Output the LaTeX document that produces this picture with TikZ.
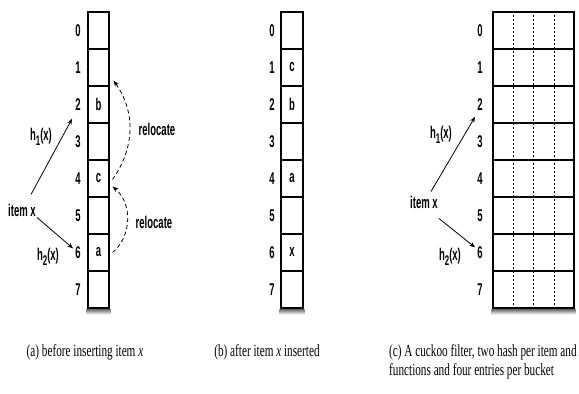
\documentclass[tikz,border=0pt]{standalone}
\usepackage{fontspec}
\setmainfont{Liberation Serif}
\newfontfamily\labfont[FakeStretch=0.56]{Liberation Sans}
\newfontfamily\capfont[FakeStretch=0.66]{Liberation Serif}
\usetikzlibrary{arrows.meta,calc,positioning}
\newcommand{\hsub}[1]{\raisebox{-0.3em}{\fontsize{14pt}{14pt}\selectfont #1}}
\tikzset{
  lab/.style={font=\labfont\bfseries\fontsize{17pt}{17pt}\selectfont, inner sep=1pt},
  cell/.style={draw=black, line width=1.1pt, minimum height=37pt,
               inner sep=0pt, lab},
  idx/.style={lab},
  hash/.style={-{Stealth[length=6pt,width=4.5pt]}, line width=0.8pt},
  reloc/.style={hash, dash pattern=on 4pt off 3pt},
  slot/.style={line width=0.5pt, dash pattern=on 2pt off 2pt},
  caption/.style={font=\capfont\fontsize{17pt}{19pt}\selectfont, inner sep=0pt},
  tabshadow/.style={top color=black!60, bottom color=white},
}

\begin{document}
\begin{tikzpicture}[x=1pt,y=1pt]
  \path[use as bounding box] (0,0) rectangle (579,394);

  % (a) before inserting
  \foreach \i/\t in {0/,1/,2/b,3/,4/c,5/,6/a,7/}{
    \node[cell, minimum width=21pt] (a\i) at (98.5,{363.5-37*\i}) {\t};
    \node[idx] (la\i) at (78,{363.5-37*\i}) {\i};
  }
  \shade[tabshadow] ($(a7.south west)+(-1,-0.5)$) rectangle ($(a7.south east)+(1,-6)$);
  \node[lab] (ia) at (22,184) {item x};
  \draw[hash] ($(ia.north east)+(-6,8)$) -- ($(la2.south west)+(-2,-7)$);
  \draw[hash] (ia.south east) -- ($(la6.west)+(-1,4)$);
  \node[lab] (h1a) at (41,257) {h\hsub{1}(x)};
  \node[lab] (h2a) at (48,137) {h\hsub{2}(x)};
  \draw[reloc] ($(a6.east)+(3,0)$) to[out=40,in=-40] ($(a4.east)+(3,-8)$);
  \draw[reloc] ($(a4.east)+(3,-1)$) to[out=55,in=-55] ($(a1.south east)+(4,6)$);
  \node[lab] (r1) at (157,265) {relocate};
  \node[lab] (r2) at (154,172) {relocate};

  % (b) after inserting
  \foreach \i/\t in {0/,1/c,2/b,3/,4/a,5/,6/x,7/}{
    \node[cell, minimum width=22pt] (b\i) at (292,{363.5-37*\i}) {\t};
    \node[idx] (lb\i) at (272,{363.5-37*\i}) {\i};
  }
  \shade[tabshadow] ($(b7.south west)+(-1,-0.5)$) rectangle ($(b7.south east)+(1,-6)$);

  % (c) cuckoo filter, four entries per bucket
  \foreach \i in {0,...,7}{
    \node[cell, minimum width=81pt] (c\i) at (533.5,{363.5-37*\i}) {};
    \node[idx] (lc\i) at (480,{363.5-37*\i}) {\i};
  }
  \foreach \f in {0.25,0.5,0.75}
    \draw[slot] ($(c0.north west)!\f!(c0.north east)$) -- ($(c7.south west)!\f!(c7.south east)$);
  \shade[tabshadow] ($(c7.south west)+(-1,-0.5)$) rectangle ($(c7.south east)+(1,-6)$);
  \node[lab] (ic) at (424,192) {item x};
  \draw[hash] ($(ic.north east)+(-8,3)$) -- ($(lc2.south west)+(-1,-5)$);
  \draw[hash] ($(ic.south east)+(0,-9)$) -- ($(lc6.west)+(-1,5)$);
  \node[lab] (h1c) at (441,259) {h\hsub{1}(x)};
  \node[lab] (h2c) at (450,137) {h\hsub{2}(x)};

  % captions
  \node[caption] (capa) at (85,42) {(a) before inserting item \textit{x}};
  \node[caption] (capb) at (267,42) {(b) after item \textit{x} inserted};
  \node[caption, anchor=west, align=left] (capc) at (389,32.5)
    {(c) A cuckoo filter, two hash per item and\\functions and four entries per bucket};
\end{tikzpicture}
\end{document}
